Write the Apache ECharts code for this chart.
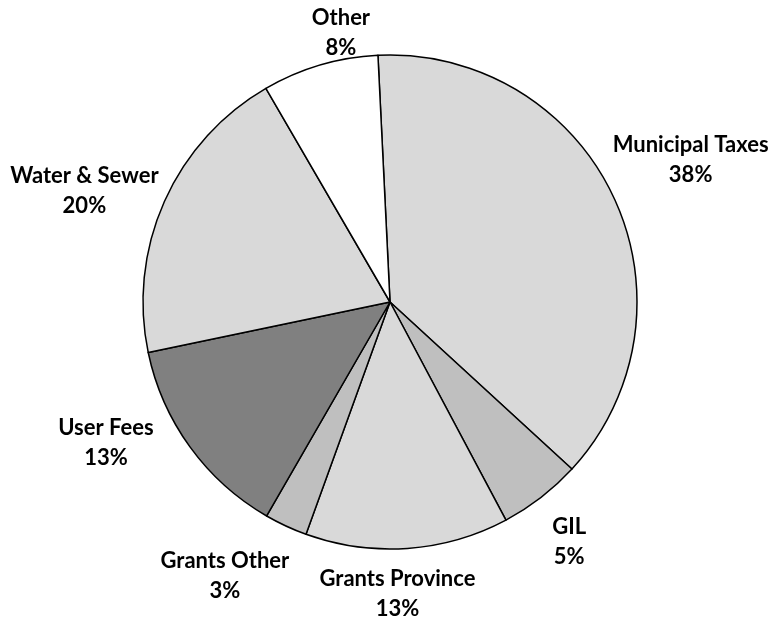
<!DOCTYPE html>
<html>
<head>
<meta charset="utf-8">
<script src="https://cdn.jsdelivr.net/npm/echarts@6/dist/echarts.min.js"></script>
<style>
html,body{margin:0;padding:0;background:#fff;}
#chart{width:772px;height:618px;}
</style>
</head>
<body>
<div id="chart"></div>
<script>
// Data (clockwise from top)
const categories = ['Municipal Taxes', 'GIL', 'Grants Province', 'Grants Other', 'User Fees', 'Water & Sewer', 'Other'];
const values = [37.6, 5.4, 13.3, 2.8, 13.4, 19.9, 7.6];

// Styling (kept separate from data)
const sliceColors = ['#d9d9d9', '#bfbfbf', '#d9d9d9', '#bfbfbf', '#808080', '#d9d9d9', '#ffffff'];
// label offsets from the slice's outer mid point
const labelOffsets = [[77, -37], [28, 45], [-10, 46], [-61, 50], [-84, -4], [-80, -11], [21, -32]];

const chart = echarts.init(document.getElementById('chart'), null, {renderer: 'canvas'});

const pieData = categories.map((c, i) => ({
  name: c,
  value: values[i],
  itemStyle: {color: sliceColors[i]}
}));

chart.setOption({
  animation: false,
  backgroundColor: '#ffffff',
  series: [{
    type: 'pie',
    center: [390, 302],
    radius: 247,
    startAngle: 92.8,
    clockwise: true,
    avoidLabelOverlap: false,
    percentPrecision: 0,
    itemStyle: {borderColor: '#000000', borderWidth: 1.5},
    emphasis: {disabled: true},
    label: {
      show: true,
      position: 'outside',
      formatter: '{b}\n{d}%',
      fontFamily: 'Lato',
      fontWeight: 'bold',
      fontSize: 22,
      lineHeight: 30,
      color: '#000000',
      align: 'center'
    },
    labelLine: {show: true, length: 10, length2: 0, lineStyle: {opacity: 0}},
    labelLayout: function (params) {
      const i = params.dataIndex;
      let px, py;
      if (params.labelLinePoints && params.labelLinePoints.length) {
        px = params.labelLinePoints[0][0];
        py = params.labelLinePoints[0][1];
      } else {
        const lay = chart.getModel().getSeriesByIndex(0).getData().getItemLayout(i);
        const mid = (lay.startAngle + lay.endAngle) / 2;
        px = lay.cx + lay.r * Math.cos(mid);
        py = lay.cy + lay.r * Math.sin(mid);
      }
      return {
        x: px + labelOffsets[i][0],
        y: py + labelOffsets[i][1],
        align: 'center',
        verticalAlign: 'middle'
      };
    },
    data: pieData
  }]
});
</script>
</body>
</html>
